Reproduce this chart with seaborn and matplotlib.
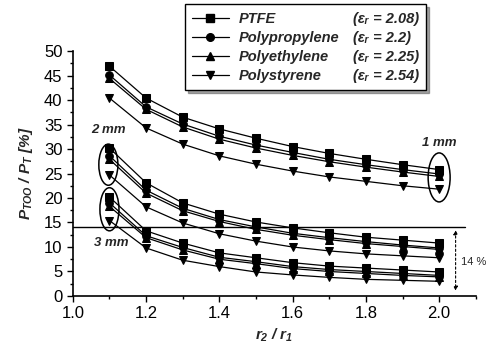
import numpy as np
import pandas as pd
import matplotlib
matplotlib.use('Agg')
import matplotlib.pyplot as plt
from matplotlib.patches import Ellipse
from matplotlib.lines import Line2D
import seaborn as sns

# dados
ratio = [1.1, 1.2, 1.3, 1.4, 1.5, 1.6, 1.7, 1.8, 1.9, 2.0]
materials = ['PTFE', 'Polypropylene', 'Polyethylene', 'Polystyrene']
eps_labels = ['(εᵣ = 2.08)', '(εᵣ = 2.2)', '(εᵣ = 2.25)', '(εᵣ = 2.54)']

# 1 mm
ptfe_1mm = [46.9, 40.4, 36.5, 34.1, 32.2, 30.5, 29.1, 27.9, 26.8, 25.8]
pp_1mm = [45.1, 38.6, 35.1, 32.6, 30.8, 29.3, 27.9, 26.8, 25.8, 24.9]
pe_1mm = [44.4, 38.1, 34.5, 32.0, 30.2, 28.7, 27.4, 26.3, 25.3, 24.4]
ps_1mm = [40.4, 34.3, 31.0, 28.6, 26.9, 25.5, 24.3, 23.4, 22.5, 21.8]
# 2 mm
ptfe_2mm = [30.2, 23.1, 19.0, 16.7, 15.1, 13.9, 12.9, 12.0, 11.4, 10.8]
pp_2mm = [28.6, 21.6, 17.9, 15.6, 14.1, 12.8, 11.9, 11.1, 10.4, 9.8]
pe_2mm = [27.9, 21.0, 17.4, 15.2, 13.6, 12.4, 11.5, 10.7, 10.1, 9.5]
ps_2mm = [24.7, 18.2, 14.9, 12.7, 11.2, 10.0, 9.2, 8.6, 8.2, 7.8]
# 3 mm
ptfe_3mm = [20.2, 13.3, 10.8, 8.8, 7.8, 6.8, 6.1, 5.7, 5.3, 4.9]
pp_3mm = [19.0, 12.3, 9.9, 7.9, 7.0, 6.0, 5.4, 5.0, 4.6, 4.2]
pe_3mm = [18.3, 11.9, 9.4, 7.5, 6.6, 5.6, 5.0, 4.6, 4.2, 3.9]
ps_3mm = [15.4, 9.8, 7.3, 6.0, 4.9, 4.3, 3.8, 3.4, 3.2, 3.0]

threshold = 14

series = {
    ('1 mm', 'PTFE'): ptfe_1mm, ('1 mm', 'Polypropylene'): pp_1mm,
    ('1 mm', 'Polyethylene'): pe_1mm, ('1 mm', 'Polystyrene'): ps_1mm,
    ('2 mm', 'PTFE'): ptfe_2mm, ('2 mm', 'Polypropylene'): pp_2mm,
    ('2 mm', 'Polyethylene'): pe_2mm, ('2 mm', 'Polystyrene'): ps_2mm,
    ('3 mm', 'PTFE'): ptfe_3mm, ('3 mm', 'Polypropylene'): pp_3mm,
    ('3 mm', 'Polyethylene'): pe_3mm, ('3 mm', 'Polystyrene'): ps_3mm,
}
rows = []
for (grupo, mat), vals in series.items():
    for r, v in zip(ratio, vals):
        rows.append({'grupo': grupo, 'material': mat, 'ratio': r, 'valor': v})
df = pd.DataFrame(rows)

sns.set_style('ticks')
plt.rcParams['font.family'] = ['Liberation Sans', 'DejaVu Sans']
plt.rcParams['mathtext.fontset'] = 'custom'
plt.rcParams['mathtext.rm'] = 'Liberation Sans:bold:italic'
plt.rcParams['mathtext.it'] = 'Liberation Sans:bold:italic'
plt.rcParams['mathtext.bf'] = 'Liberation Sans:bold:italic'

fig = plt.figure(figsize=(4.92, 3.47), dpi=100)
ax = fig.add_axes([0.148, 0.147, 0.819, 0.706])

marcadores = {'PTFE': 's', 'Polypropylene': 'o', 'Polyethylene': '^', 'Polystyrene': 'v'}
sns.lineplot(data=df, x='ratio', y='valor', hue='material', style='material',
             units='grupo', estimator=None, markers=marcadores, dashes=False,
             palette=['black'] * 4, linewidth=0.9, markersize=5.5,
             markeredgecolor='black', legend=False, ax=ax)

ax.set_xlim(1.0, 2.1)
ax.set_ylim(0, 50)
ax.set_xticks([1.0, 1.2, 1.4, 1.6, 1.8, 2.0])
ax.set_xticklabels(['1.0', '1.2', '1.4', '1.6', '1.8', '2.0'])
ax.set_xticks(np.arange(1.1, 2.11, 0.2), minor=True)
ax.set_yticks(range(0, 51, 5))
ax.set_yticks(np.arange(2.5, 50, 5), minor=True)
ax.tick_params(which='both', direction='out', colors='black', labelsize=12)
ax.tick_params(which='major', length=4, width=1)
ax.tick_params(which='minor', length=2.5, width=1)
for s in ['top', 'right']:
    ax.spines[s].set_visible(False)
for s in ['left', 'bottom']:
    ax.spines[s].set_color('black')
    ax.spines[s].set_linewidth(1.2)

ax.set_xlabel('$r_2$ / $r_1$', fontsize=11, fontweight='bold', style='italic', labelpad=4)
ax.set_ylabel('$P_{TOO}$ / $P_T$ [%]', fontsize=11, fontweight='bold', style='italic', labelpad=6)

# linha de 14 %
ax.plot([1.0, 2.07], [threshold, threshold], color='black', linewidth=1)
ax.annotate('', xy=(2.045, 0.5), xytext=(2.045, threshold),
            arrowprops=dict(arrowstyle='<|-|>', color='black', linestyle=(0, (2, 2)),
                            linewidth=0.8, mutation_scale=6))
ax.text(2.06, 7, '14 %', fontsize=8, va='center', ha='left')

# elipses e rotulos
ax.add_patch(Ellipse((1.097, 26.8), 0.052, 8.4, fill=False, edgecolor='black', linewidth=1.1))
ax.add_patch(Ellipse((1.1, 17.7), 0.052, 8.8, fill=False, edgecolor='black', linewidth=1.1))
ax.add_patch(Ellipse((2.0, 24.2), 0.06, 10.0, fill=False, edgecolor='black', linewidth=1.1))
ax.text(1.098, 33.9, '2 mm', fontsize=9.5, fontweight='bold', style='italic', ha='center', va='center')
ax.text(1.105, 10.8, '3 mm', fontsize=9.5, fontweight='bold', style='italic', ha='center', va='center')
ax.text(2.0, 31.3, '1 mm', fontsize=9.5, fontweight='bold', style='italic', ha='center', va='center')

# legenda
handles = [Line2D([], [], color='black', marker=marcadores[m], markersize=5.5, linewidth=0.9)
           for m in materials]
vazios = [Line2D([], [], linestyle='none') for _ in materials]
leg = ax.legend(handles + vazios, materials + eps_labels, ncol=2,
                loc='upper left', bbox_to_anchor=(0.278, 1.19),
                frameon=True, fancybox=False, shadow=True, edgecolor='black',
                handlelength=2.5, handletextpad=0.7, columnspacing=-2.3,
                labelspacing=0.34, borderpad=0.5, borderaxespad=0,
                prop={'weight': 'bold', 'style': 'italic', 'size': 10.5})
leg.get_frame().set_linewidth(1)

fig.savefig('out.png', dpi=100)
